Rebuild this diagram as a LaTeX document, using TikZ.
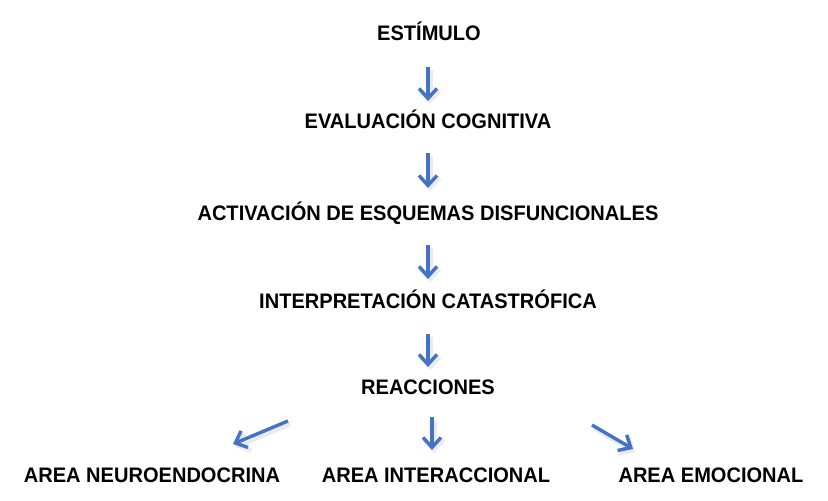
\documentclass[tikz,border=0pt]{standalone}
\usepackage{fontspec}
\setmainfont[FakeStretch=0.955]{Liberation Sans}
\usetikzlibrary{arrows.meta}
\definecolor{arrowblue}{HTML}{4472C4}
\begin{document}
\begin{tikzpicture}[x=1pt,y=-1pt,
  lbl/.style={font=\bfseries\fontsize{21}{23}\selectfont, inner sep=0pt, anchor=center},
  flow/.style={draw=arrowblue, line width=3.4pt, -{Straight Barb[length=10pt,width=18pt]}},
  shade/.style={draw=black!8, line width=5pt, -{Straight Barb[length=10pt,width=19pt]}}]
\useasboundingbox (0,0) rectangle (828,501);
\node[lbl] (s) at (429,31) {ESTÍMULO};
\node[lbl] (e) at (428,119) {EVALUACIÓN COGNITIVA};
\node[lbl] (a) at (428,213) {ACTIVACIÓN DE ESQUEMAS DISFUNCIONALES};
\node[lbl] (i) at (428,299) {INTERPRETACIÓN CATASTRÓFICA};
\node[lbl] (r) at (428,387) {REACCIONES};
\node[lbl] (n) at (152,475) {AREA NEUROENDOCRINA};
\node[lbl] (t) at (436,475) {AREA INTERACCIONAL};
\node[lbl] (m) at (711,475) {AREA EMOCIONAL};
% arrow end points
\coordinate (a1s) at (428,67);  \coordinate (a1e) at (428,101);
\coordinate (a2s) at (428,153); \coordinate (a2e) at (428,188);
\coordinate (a3s) at (428,245); \coordinate (a3e) at (428,279);
\coordinate (a4s) at (428,334); \coordinate (a4e) at (428,367);
\coordinate (a5s) at (432,417); \coordinate (a5e) at (432,450);
\coordinate (a6s) at (288,421); \coordinate (a6e) at (233,444);
\coordinate (a7s) at (592,425); \coordinate (a7e) at (633,449);
\foreach \k in {1,...,7}{
  \draw[shade] ([shift={(2,3)}]a\k s) -- ([shift={(2,3)}]a\k e);
}
\foreach \k in {1,...,7}{
  \draw[flow] (a\k s) -- (a\k e);
}
\end{tikzpicture}
\end{document}
